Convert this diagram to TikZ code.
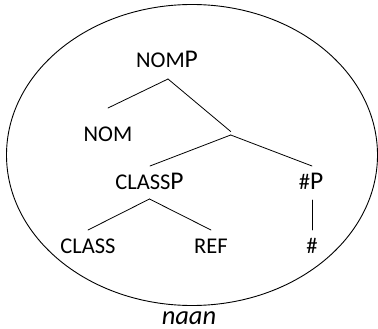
\documentclass[tikz,border=0pt]{standalone}
\usepackage{fontspec}
\setmainfont{Carlito}
\newcommand{\bigP}{{\fontsize{25.5}{30}\selectfont P}}
\begin{document}
\begin{tikzpicture}[x=1pt,y=1pt,
  lbl/.style={anchor=base,inner sep=0pt,font=\fontsize{22.5}{26}\selectfont},
  br/.style={line width=0.8pt,line cap=round}]
\useasboundingbox (0,0) rectangle (378,-329);
\draw[line width=0.9pt] (192,-155) ellipse [x radius=185.5, y radius=150.5];
\node[lbl] (nomp) at (167,-68) {NOM\bigP};
\node[lbl] (nom) at (108,-142) {NOM};
\node[lbl] (classp) at (149.5,-189) {CLASS\bigP};
\node[lbl] (hashp) at (311,-189) {\#\bigP};
\node[lbl] (class) at (88,-253) {CLASS};
\node[lbl] (ref) at (211,-253) {REF};
\node[lbl] (hash) at (312,-253) {\#};
\node[anchor=base,inner sep=0pt,font=\fontsize{26.5}{30}\selectfont\itshape] (naan) at (189,-324.5) {naan};
\coordinate (jt) at (230.7,-131.5);
\coordinate (jb) at (230.7,-135);
\draw[br] ([xshift=1pt,yshift=-11pt]nomp.base) -- ([yshift=34pt]nom.base);
\draw[br] ([xshift=1pt,yshift=-11pt]nomp.base) -- (jt);
\draw[br] (jb) -- ([xshift=0.5pt,yshift=23pt]classp.base);
\draw[br] (jb) -- ([xshift=1pt,yshift=23pt]hashp.base);
\draw[br] ([yshift=-10pt]classp.base) -- ([yshift=23pt]class.base);
\draw[br] ([yshift=-10pt]classp.base) -- ([yshift=23pt]ref.base);
\draw[br] ([xshift=1pt,yshift=-11pt]hashp.base) -- ([yshift=23pt]hash.base);
\end{tikzpicture}
\end{document}
